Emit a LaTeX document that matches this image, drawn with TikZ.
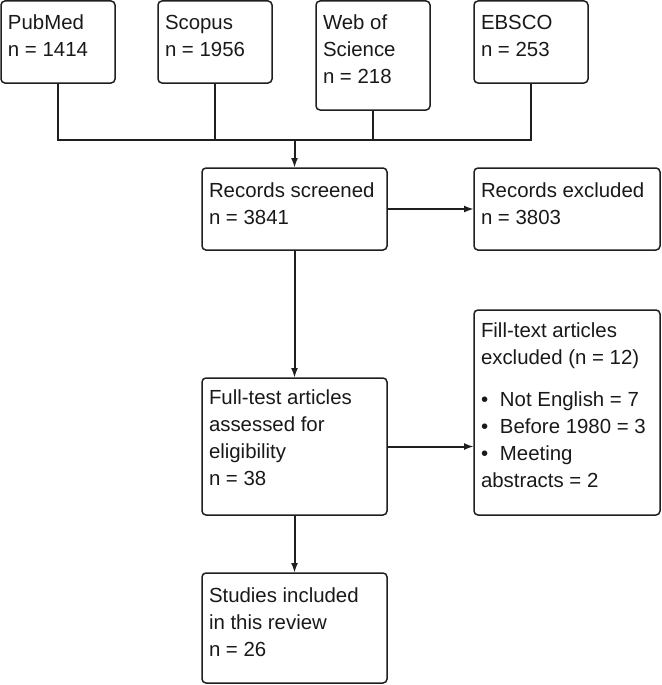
\documentclass[tikz,border=0pt]{standalone}
\usepackage{fontspec}
\setmainfont{Liberation Sans}
\usetikzlibrary{arrows.meta}
\begin{document}
\begin{tikzpicture}[x=1pt,y=-1pt,
  box/.style={draw=black!88, line width=1.5pt, rounded corners=4pt, inner sep=0pt, outer sep=0pt, anchor=north west},
  txt/.style={anchor=base west, inner sep=0pt, outer sep=0pt, text=black!90, font=\fontsize{20.4pt}{27pt}\selectfont},
  link/.style={draw=black!88, line width=1.6pt},
  arr/.style={draw=black!88, line width=2pt, -{Latex[length=10pt,width=7pt]}}]
\useasboundingbox (0,0) rectangle (661,685);
% boxes
\node[box, minimum width=114pt, minimum height=82pt] (pub) at (1,1) {};
\node[box, minimum width=114pt, minimum height=82pt] (sco) at (158,1) {};
\node[box, minimum width=114pt, minimum height=109pt] (wos) at (316,1) {};
\node[box, minimum width=114pt, minimum height=82pt] (ebs) at (474,1) {};
\node[box, minimum width=185pt, minimum height=82pt] (scr) at (202,168) {};
\node[box, minimum width=186pt, minimum height=82pt] (exc) at (474,168) {};
\node[box, minimum width=185pt, minimum height=137pt] (ft) at (202,378) {};
\node[box, minimum width=186pt, minimum height=205pt] (fte) at (474,310) {};
\node[box, minimum width=185pt, minimum height=110pt] (inc) at (202,573) {};
% texts
\node[txt] (pubt) at ([shift={(7,28.5)}]pub.north west) {\begin{tabular}[t]{@{}l@{}}PubMed\\n = 1414\end{tabular}};
\node[txt] (scot) at ([shift={(7,28.5)}]sco.north west) {\begin{tabular}[t]{@{}l@{}}Scopus\\n = 1956\end{tabular}};
\node[txt] (wost) at ([shift={(7,28.5)}]wos.north west) {\begin{tabular}[t]{@{}l@{}}Web of\\Science\\n = 218\end{tabular}};
\node[txt] (ebst) at ([shift={(7,28.5)}]ebs.north west) {\begin{tabular}[t]{@{}l@{}}EBSCO\\n = 253\end{tabular}};
\node[txt] (scrt) at ([shift={(7,29)}]scr.north west) {\begin{tabular}[t]{@{}l@{}}Records screened\\n = 3841\end{tabular}};
\node[txt] (exct) at ([shift={(7,29)}]exc.north west) {\begin{tabular}[t]{@{}l@{}}Records excluded\\n = 3803\end{tabular}};
\node[txt] (ftt) at ([shift={(7,26.5)}]ft.north west) {\begin{tabular}[t]{@{}l@{}}Full-test articles\\assessed for\\eligibility\\n = 38\end{tabular}};
\node[txt] (ftet) at ([shift={(7,27)}]fte.north west) {\begin{tabular}[t]{@{}l@{}}Fill-text articles\\excluded (n = 12)\\[15pt]\makebox[19pt][l]{\textbullet}Not English = 7\\\makebox[19pt][l]{\textbullet}Before 1980 = 3\\\makebox[19pt][l]{\textbullet}Meeting\\abstracts = 2\end{tabular}};
\node[txt] (inct) at ([shift={(7,29)}]inc.north west) {\begin{tabular}[t]{@{}l@{}}Studies included\\in this review\\n = 26\end{tabular}};
% connectors
\coordinate (j) at (scr.north |- 0,140);
\draw[link] (pub.south) -- (pub.south |- j) -- (ebs.south |- j) -- (ebs.south);
\draw[link] (sco.south) -- (sco.south |- j);
\draw[link] (wos.south) -- (wos.south |- j);
\draw[arr] (j) -- (scr.north);
\draw[arr] (scr.east) -- (exc.west);
\draw[arr] (scr.south) -- (ft.north);
\draw[arr] (ft.east) -- (ft.east -| fte.west);
\draw[arr] (ft.south) -- (inc.north);
\end{tikzpicture}
\end{document}
